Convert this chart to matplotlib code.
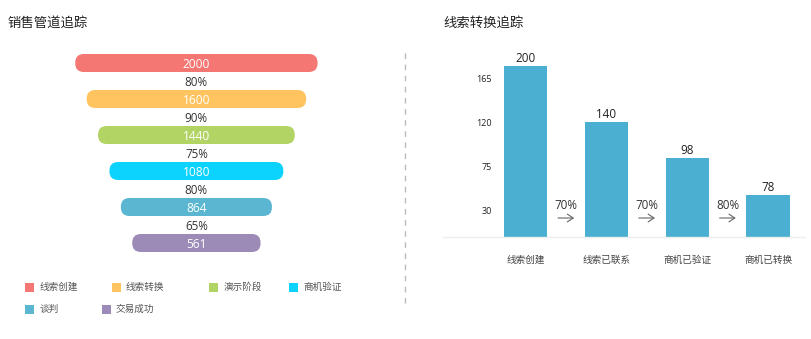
import matplotlib
matplotlib.use("Agg")
import matplotlib.pyplot as plt
from matplotlib.patches import FancyBboxPatch, Rectangle
import matplotlib.transforms as mtransforms

plt.rcParams['font.family'] = ['Open Sans', 'Noto Sans CJK SC', 'DejaVu Sans']

# ---------------- data ----------------
funnel_stages = ['线索创建', '线索转换', '演示阶段', '商机验证', '谈判', '交易成功']
funnel_values = [2000, 1600, 1440, 1080, 864, 561]
funnel_rates = ['80%', '90%', '75%', '80%', '65%']
funnel_colors = ['#F47773', '#FFC460', '#B1D465', '#0BD3FE', '#5BB7D1', '#9C8BB7']

lead_stages = ['线索创建', '线索已联系', '商机已验证', '商机已转换']
lead_labels = [200, 140, 98, 78]
lead_bar_heights = [178, 121, 84, 46]   # heights as drawn against the y axis
lead_rates = ['70%', '70%', '80%']
lead_yticks = [30, 75, 120, 165]

# ---------------- layout ----------------
W, H = 812, 339
fig = plt.figure(figsize=(W / 100, H / 100), dpi=100)


def px_rect(x0, y0, x1, y1):
    return [x0 / W, 1 - y1 / H, (x1 - x0) / W, (y1 - y0) / H]


# titles
fig.text(7.3 / W, 1 - 23 / H, '销售管道追踪', fontsize=9.6, color='#222222', va='center', ha='left')
fig.text(443.3 / W, 1 - 23 / H, '线索转换追踪', fontsize=9.6, color='#222222', va='center', ha='left')

# ---------------- funnel ----------------
unit = 36.0
cx = 196.4
axf = fig.add_axes(px_rect(0, 45, 400, 261))
axf.set_xlim(-cx / unit, (400 - cx) / unit)
axf.set_ylim(len(funnel_values) - 0.5, -0.5)
axf.axis('off')
max_w = 242.3 / unit
step_w = 22.8 / unit
bar_h = 18.0 / unit
for i, (v, c) in enumerate(zip(funnel_values, funnel_colors)):
    w = max_w - i * step_w
    patch = FancyBboxPatch((-w / 2, i - bar_h / 2), w, bar_h,
                           boxstyle='round,pad=0,rounding_size=0.24',
                           facecolor=c, edgecolor='none')
    axf.add_patch(patch)
    axf.text(0, i, str(v), color='white', fontsize=8.6, ha='center', va='center_baseline',
             fontweight='medium')
for i, r in enumerate(funnel_rates):
    axf.text(0, i + 0.5, r, color='#333333', fontsize=8.4, ha='center', va='center_baseline')

# legend (flow layout)
legend_pos = [(25, 287.2), (111.7, 287.2), (209, 287.2), (289.3, 287.2), (25, 309.8), (101.7, 309.8)]
for (lx, ly), name, c in zip(legend_pos, funnel_stages, funnel_colors):
    fig.patches.append(Rectangle((lx / W, 1 - (ly + 4.5) / H), 9 / W, 9 / H,
                                 transform=fig.transFigure, facecolor=c, edgecolor='none'))
    fig.text((lx + 14.3) / W, 1 - ly / H, name, fontsize=6.9, color='#555555',
             ha='left', va='center')

# divider
fig.add_artist(plt.Line2D([405.3 / W, 405.3 / W], [1 - 52.7 / H, 1 - 307.7 / H],
                          transform=fig.transFigure, color='#BBBBBB', lw=1.0,
                          linestyle=(0, (4, 4))))

# ---------------- bar chart ----------------
x0px, x1px = 443, 805
top_px, base_px = 45, 237
c0 = 525.7
slot = 80.8
scale = 0.978  # px per unit
ymin = 3.4
axb = fig.add_axes(px_rect(x0px, top_px, x1px, base_px))
axb.set_xlim(-(c0 - x0px) / slot, (x1px - c0) / slot)
axb.set_ylim(ymin, ymin + (base_px - top_px) / scale)
xs = list(range(len(lead_stages)))
axb.bar(xs, lead_bar_heights, width=43.5 / slot, color='#4AAFD1', edgecolor='none', zorder=2)
for x, h, lab in zip(xs, lead_bar_heights, lead_labels):
    axb.annotate(str(lab), (x, h), xytext=(0, 3.2), textcoords='offset points',
                 ha='center', va='baseline', fontsize=8.4, color='#222222')
trans = mtransforms.blended_transform_factory(axb.transData, axb.transAxes)
for i, r in enumerate(lead_rates):
    xm = i + 0.5
    axb.text(xm, 27.7 / 192, r, transform=trans, ha='center', va='baseline',
             fontsize=8.4, color='#333333')
    axb.annotate('', xy=(xm + 0.1, 19 / 192), xytext=(xm - 0.1, 19 / 192),
                 xycoords=trans, textcoords=trans,
                 arrowprops=dict(arrowstyle='->,head_length=0.3,head_width=0.2',
                                 color='#666666', lw=0.8, mutation_scale=14,
                                 shrinkA=0, shrinkB=0))
for s in ['top', 'right', 'left']:
    axb.spines[s].set_visible(False)
axb.spines['bottom'].set_color('#EEEEEE')
axb.spines['bottom'].set_linewidth(1.0)
axb.set_xticks(xs)
axb.set_xticklabels(lead_stages, fontsize=6.9, color='#444444')
axb.tick_params(axis='x', length=0, pad=13)
axb.set_yticks(lead_yticks)
axb.set_yticklabels([str(t) for t in lead_yticks], fontsize=6.5, color='#222222')
axb.tick_params(axis='y', length=0, pad=-35.3)

fig.savefig('out.png', dpi=100)
